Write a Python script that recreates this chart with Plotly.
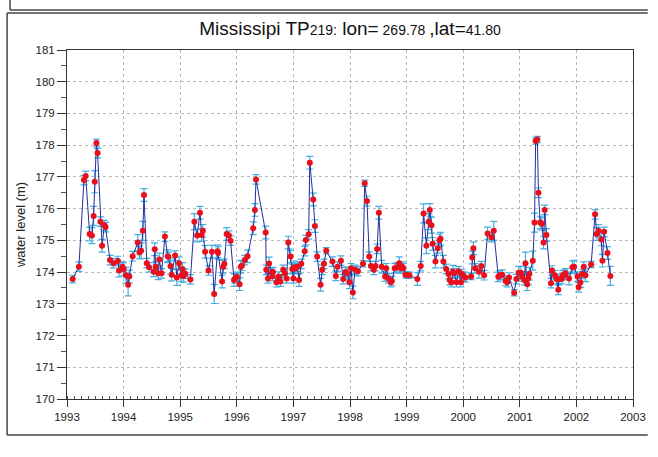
import plotly.graph_objects as go

# ---- data (decimal year, water level in m, error in m) ----
t = [
    1993.10, 1993.21, 1993.30, 1993.33, 1993.40, 1993.44, 1993.47, 1993.49, 1993.52, 1993.54,
    1993.59, 1993.62, 1993.66, 1993.68, 1993.76, 1993.82, 1993.90, 1993.92, 1993.98, 1994.00,
    1994.04, 1994.08, 1994.10, 1994.16, 1994.25, 1994.28, 1994.31, 1994.34, 1994.36, 1994.41,
    1994.45, 1994.53, 1994.55, 1994.57, 1994.61, 1994.63, 1994.67, 1994.73, 1994.78, 1994.79,
    1994.83, 1994.85, 1994.91, 1994.94, 1994.98, 1995.02, 1995.04, 1995.06, 1995.09, 1995.18,
    1995.25, 1995.30, 1995.35, 1995.38, 1995.40, 1995.44, 1995.50, 1995.56, 1995.60, 1995.66,
    1995.67, 1995.74, 1995.76, 1995.78, 1995.82, 1995.86, 1995.89, 1995.95, 1995.97, 1996.00,
    1996.05, 1996.07, 1996.09, 1996.14, 1996.19, 1996.29, 1996.32, 1996.34, 1996.51, 1996.52,
    1996.55, 1996.57, 1996.62, 1996.63, 1996.64, 1996.70, 1996.74, 1996.77, 1996.82, 1996.85,
    1996.88, 1996.91, 1996.95, 1996.98, 1997.00, 1997.02, 1997.04, 1997.07, 1997.10, 1997.14,
    1997.20, 1997.22, 1997.27, 1997.29, 1997.35, 1997.38, 1997.42, 1997.48, 1997.51, 1997.54,
    1997.58, 1997.69, 1997.75, 1997.78, 1997.84, 1997.88, 1997.92, 1997.95, 1997.99, 1998.02,
    1998.05, 1998.09, 1998.14, 1998.23, 1998.26, 1998.30, 1998.34, 1998.37, 1998.42, 1998.45,
    1998.48, 1998.51, 1998.56, 1998.62, 1998.64, 1998.68, 1998.72, 1998.74, 1998.79, 1998.83,
    1998.87, 1998.90, 1998.92, 1998.94, 1998.98, 1999.02, 1999.05, 1999.19, 1999.25, 1999.30,
    1999.35, 1999.39, 1999.41, 1999.44, 1999.46, 1999.51, 1999.55, 1999.58, 1999.60, 1999.65,
    1999.70, 1999.74, 1999.76, 1999.79, 1999.82, 1999.84, 1999.88, 1999.92, 1999.96, 1999.98,
    2000.01, 2000.04, 2000.14, 2000.16, 2000.18, 2000.21, 2000.28, 2000.32, 2000.37, 2000.43,
    2000.50, 2000.54, 2000.62, 2000.65, 2000.69, 2000.75, 2000.78, 2000.81, 2000.90, 2000.94,
    2000.98, 2001.02, 2001.04, 2001.08, 2001.10, 2001.13, 2001.15, 2001.17, 2001.23, 2001.26,
    2001.28, 2001.31, 2001.33, 2001.36, 2001.39, 2001.42, 2001.44, 2001.47, 2001.55, 2001.57,
    2001.62, 2001.65, 2001.68, 2001.69, 2001.74, 2001.76, 2001.79, 2001.81, 2001.87, 2001.93,
    2001.96, 2002.02, 2002.04, 2002.07, 2002.10, 2002.13, 2002.16, 2002.26, 2002.33, 2002.36,
    2002.39, 2002.44, 2002.46, 2002.49, 2002.55, 2002.60,
]

level = [
    173.78, 174.17, 176.90, 177.03, 175.20, 175.15, 175.77, 176.85, 178.07, 177.75,
    175.59, 174.83, 175.48, 175.42, 174.38, 174.28, 174.35, 174.05, 174.17, 174.10,
    173.90, 173.60, 173.86, 174.50, 174.93, 174.62, 174.67, 175.30, 176.43, 174.28,
    174.15, 174.01, 174.72, 174.17, 173.96, 174.40, 173.96, 175.12, 174.50, 174.48,
    174.19, 173.92, 174.52, 173.83, 174.28, 173.90, 174.10, 173.88, 173.95, 173.77,
    175.59, 175.15, 175.87, 175.17, 175.30, 174.64, 174.05, 174.64, 173.31, 174.66,
    174.60, 173.70, 174.17, 174.26, 175.20, 175.15, 174.99, 173.75, 173.80, 173.85,
    173.62, 174.17, 174.20, 174.38, 174.50, 175.38, 175.96, 176.92, 175.25, 174.07,
    173.80, 174.27, 173.98, 173.87, 174.00, 173.68, 173.86, 173.70, 174.07, 173.96,
    173.80, 174.93, 174.49, 174.10, 173.80, 174.15, 174.12, 174.17, 173.75, 174.26,
    174.66, 175.01, 175.19, 177.45, 176.29, 175.45, 174.49, 173.60, 174.07, 174.26,
    174.67, 174.33, 173.88, 174.17, 174.36, 173.78, 174.00, 173.96, 173.68, 174.12,
    173.36, 174.07, 174.03, 174.26, 176.80, 176.24, 174.49, 174.19, 174.07, 174.19,
    174.73, 175.87, 174.17, 173.86, 174.12, 173.80, 173.68, 173.72, 174.12, 174.15,
    174.28, 174.12, 174.17, 174.12, 173.92, 173.90, 173.90, 173.78, 174.19, 175.85,
    174.83, 175.59, 175.96, 175.48, 174.89, 174.33, 174.75, 175.00, 175.05, 174.33,
    174.10, 173.94, 173.75, 173.68, 174.01, 173.96, 173.68, 174.03, 173.68, 173.94,
    173.86, 173.83, 173.86, 174.46, 174.75, 174.12, 174.01, 174.19, 173.90, 175.22,
    175.10, 175.30, 173.85, 173.90, 173.92, 173.72, 173.68, 173.83, 173.35, 173.78,
    173.98, 173.98, 173.86, 173.75, 174.28, 173.62, 173.80, 173.95, 174.36, 175.56,
    178.13, 178.18, 176.50, 175.56, 175.52, 174.93, 175.96, 175.17, 173.65, 174.05,
    173.90, 173.78, 173.44, 173.78, 173.78, 173.90, 173.92, 173.96, 173.80, 174.15,
    174.17, 173.86, 173.52, 173.67, 173.94, 174.17, 173.90, 174.24, 175.82, 175.20,
    175.30, 175.03, 174.36, 175.27, 174.60, 173.88,
]

err = [
    0.12, 0.15, 0.15, 0.15, 0.22, 0.25, 0.30, 0.35, 0.12, 0.15,
    0.15, 0.20, 0.15, 0.15, 0.15, 0.15, 0.15, 0.20, 0.15, 0.20,
    0.25, 0.35, 0.20, 0.15, 0.25, 0.20, 0.25, 0.30, 0.20, 0.15,
    0.15, 0.15, 0.20, 0.15, 0.20, 0.20, 0.15, 0.15, 0.20, 0.15,
    0.25, 0.20, 0.15, 0.25, 0.20, 0.20, 0.20, 0.20, 0.15, 0.15,
    0.25, 0.20, 0.20, 0.20, 0.20, 0.20, 0.15, 0.20, 0.30, 0.20,
    0.20, 0.20, 0.20, 0.15, 0.20, 0.15, 0.15, 0.20, 0.15, 0.15,
    0.20, 0.20, 0.15, 0.15, 0.20, 0.20, 0.20, 0.15, 0.20, 0.15,
    0.15, 0.20, 0.15, 0.15, 0.15, 0.15, 0.15, 0.15, 0.15, 0.15,
    0.15, 0.20, 0.20, 0.15, 0.15, 0.20, 0.15, 0.15, 0.20, 0.15,
    0.15, 0.15, 0.15, 0.20, 0.20, 0.20, 0.15, 0.20, 0.15, 0.15,
    0.10, 0.15, 0.15, 0.15, 0.15, 0.15, 0.15, 0.20, 0.20, 0.15,
    0.20, 0.15, 0.15, 0.10, 0.10, 0.15, 0.15, 0.15, 0.15, 0.15,
    0.15, 0.20, 0.20, 0.15, 0.15, 0.15, 0.15, 0.15, 0.15, 0.15,
    0.20, 0.15, 0.15, 0.15, 0.10, 0.10, 0.10, 0.20, 0.15, 0.30,
    0.25, 0.25, 0.20, 0.25, 0.20, 0.20, 0.15, 0.20, 0.20, 0.20,
    0.15, 0.15, 0.15, 0.15, 0.20, 0.15, 0.15, 0.15, 0.15, 0.15,
    0.15, 0.15, 0.10, 0.20, 0.20, 0.15, 0.20, 0.15, 0.15, 0.20,
    0.15, 0.30, 0.15, 0.15, 0.15, 0.15, 0.15, 0.15, 0.10, 0.15,
    0.20, 0.20, 0.15, 0.15, 0.35, 0.20, 0.20, 0.20, 0.30, 0.30,
    0.10, 0.10, 0.15, 0.20, 0.20, 0.20, 0.15, 0.20, 0.15, 0.15,
    0.15, 0.15, 0.15, 0.15, 0.15, 0.15, 0.15, 0.15, 0.20, 0.20,
    0.20, 0.15, 0.15, 0.15, 0.15, 0.15, 0.20, 0.10, 0.15, 0.20,
    0.20, 0.20, 0.20, 0.15, 0.20, 0.30,
]

year_ticks = list(range(1993, 2004))
level_ticks = list(range(170, 182))

assert len(t) == len(level) == len(err)

# ---- layout geometry (pixels) ----
W, H = 658, 457
L, R, T, B = 67, 15, 50, 58
PW, PH = W - L - R, H - T - B


def px(x):
    return (x - L) / PW


def py(y):
    return (H - B - y) / PH


FONT = "Liberation Sans, Arial, Helvetica, sans-serif"

fig = go.Figure()
fig.add_trace(go.Scatter(
    x=t, y=level,
    mode="lines+markers",
    line=dict(color="#1f2f9c", width=1),
    marker=dict(color="#e8101c", size=6, line=dict(width=0)),
    error_y=dict(type="data", array=err, visible=True,
                 color="#45aee0", thickness=1.2, width=3.5),
    showlegend=False,
))

title_text = (
    "<span style='font-size:19px'>Mississipi TP</span>"
    "<span style='font-size:14px'>219:</span>"
    "<span style='font-size:19px'> lon=</span>"
    "<span style='font-size:14px'> 269.78 </span>"
    "<span style='font-size:19px'>,lat=</span>"
    "<span style='font-size:14px'>41.80</span>"
)

fig.update_layout(
    width=W, height=H,
    margin=dict(l=L, r=R, t=T, b=B),
    paper_bgcolor="white", plot_bgcolor="white",
    font=dict(family=FONT, color="#222222", size=11),
    title=dict(text=title_text, x=px(355), xref="paper", xanchor="center",
               y=1 - 30 / H, yanchor="middle", font=dict(family=FONT, color="#111111")),
    xaxis=dict(
        range=[1993, 2003], tickvals=year_ticks, ticktext=[str(v) for v in year_ticks],
        showgrid=True, gridcolor="#b8b8b8", griddash="dot", gridwidth=1,
        showline=True, linecolor="#333333", linewidth=1, mirror=True,
        ticks="outside", ticklen=7, tickcolor="#333333",
        minor=dict(dtick=0.125, ticks="inside", ticklen=3, tickcolor="#555555", showgrid=False),
        zeroline=False, tickfont=dict(size=11.5),
    ),
    yaxis=dict(
        range=[170, 181], tickvals=level_ticks,
        showgrid=True, gridcolor="#b8b8b8", griddash="dot", gridwidth=1,
        showline=True, linecolor="#333333", linewidth=1, mirror=True,
        ticks="outside", ticklen=9, tickcolor="#333333",
        minor=dict(dtick=0.5, ticks="outside", ticklen=5, tickcolor="#555555", showgrid=False),
        zeroline=False, tickfont=dict(size=11.5),
        title=dict(text="water level (m)", font=dict(size=13), standoff=6),
    ),
)

# outer frames (as in the original figure page); right side runs to the page edge
frame = dict(color="#444444", width=1.5)
right_edge = px(W)
lines = [
    (px(9), py(10), right_edge, py(10)),      # upper panel, bottom edge
    (px(9), py(0), px(9), py(10)),            # upper panel, left edge
    (px(6), py(13), right_edge, py(13)),      # main panel, top edge
    (px(6), py(13), px(6), py(435)),          # main panel, left edge
    (px(6), py(435), right_edge, py(435)),    # main panel, bottom edge
]
for x0, y0, x1, y1 in lines:
    fig.add_shape(type="line", xref="paper", yref="paper",
                  x0=x0, y0=y0, x1=x1, y1=y1, line=frame)

fig.write_html("out.html", config={"displayModeBar": False})
